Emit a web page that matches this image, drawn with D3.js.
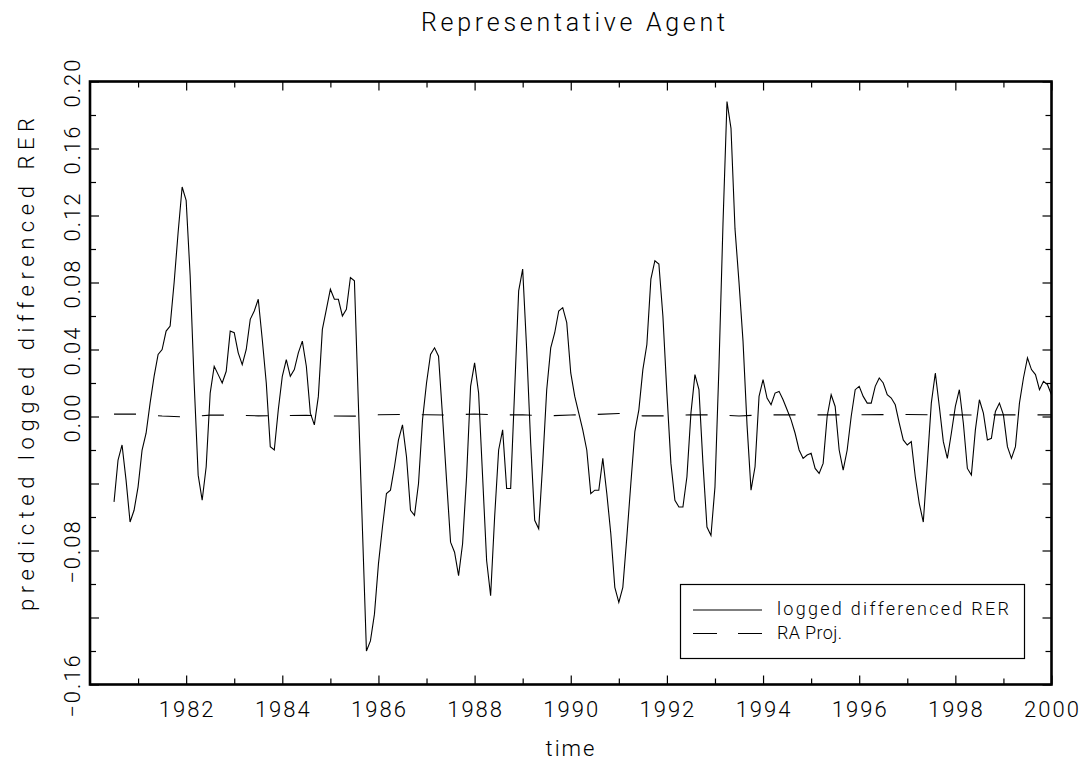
<!DOCTYPE html>
<html>
<head>
<meta charset="UTF-8">
<title>Representative Agent</title>
<script src="https://cdn.jsdelivr.net/npm/d3@7/dist/d3.min.js"></script>
<style>
  body { margin: 0; background: #fff; }
  text { font-family: Roboto, "DejaVu Sans", sans-serif; font-weight: 300; fill: #000; }
</style>
</head>
<body>
<script>
// monthly series, first month July 1980
var startYear = 1980, startMonth = 6
var rer = [
  -0.051,-0.026,-0.017,-0.038,-0.063,-0.056,-0.042,-0.020,-0.010, 0.008, 0.024, 0.037,
   0.040, 0.051, 0.054, 0.080, 0.110, 0.137, 0.129, 0.084, 0.020,-0.035,-0.050,-0.030,
   0.014, 0.030, 0.025, 0.020, 0.027, 0.051, 0.050, 0.038, 0.031, 0.040, 0.058, 0.063,
   0.070, 0.046, 0.020,-0.018,-0.020, 0.004, 0.024, 0.034, 0.024, 0.028, 0.038, 0.045,
   0.030, 0.002,-0.005, 0.012, 0.052, 0.064, 0.076, 0.070, 0.070, 0.060, 0.064, 0.083,
   0.081, 0.007,-0.067,-0.140,-0.134,-0.118,-0.088,-0.066,-0.046,-0.044,-0.030,-0.014,
  -0.005,-0.024,-0.056,-0.059,-0.040,-0.002, 0.020, 0.037, 0.041, 0.036, 0.000,-0.038,
  -0.075,-0.081,-0.095,-0.076,-0.036, 0.018, 0.032, 0.014,-0.036,-0.086,-0.107,-0.060,
  -0.020,-0.008,-0.043,-0.043, 0.016, 0.075, 0.088, 0.040,-0.016,-0.062,-0.067,-0.028,
   0.016, 0.041, 0.050, 0.063, 0.065, 0.056, 0.026, 0.012, 0.002,-0.008,-0.020,-0.046,
  -0.044,-0.044,-0.025,-0.046,-0.070,-0.102,-0.111,-0.102,-0.072,-0.040,-0.009, 0.004,
   0.028, 0.043, 0.082, 0.093, 0.091, 0.060, 0.014,-0.028,-0.050,-0.054,-0.054,-0.036,
   0.002, 0.025, 0.016,-0.028,-0.066,-0.071,-0.042, 0.030, 0.115, 0.188, 0.172, 0.112,
   0.080, 0.045,-0.005,-0.044,-0.030, 0.012, 0.022, 0.011, 0.007, 0.014, 0.015, 0.010,
   0.004,-0.002,-0.010,-0.020,-0.025,-0.023,-0.022,-0.031,-0.034,-0.028, 0.000, 0.013,
   0.006,-0.020,-0.032,-0.020, 0.000, 0.016, 0.018, 0.012, 0.008, 0.008, 0.018, 0.023,
   0.020, 0.013, 0.011, 0.007,-0.004,-0.014,-0.017,-0.015,-0.036,-0.052,-0.063,-0.028,
   0.008, 0.026, 0.006,-0.015,-0.025,-0.010, 0.006, 0.016,-0.004,-0.031,-0.035,-0.008,
   0.010, 0.002,-0.014,-0.013, 0.003, 0.008, 0.001,-0.018,-0.025,-0.018, 0.008, 0.023,
   0.035, 0.028, 0.025, 0.016, 0.021, 0.019, 0.013
]
// RA projection, read every half year
var raDates = [1980.5,1981,1981.5,1982,1982.5,1983,1983.5,1984,1984.5,1985,1985.5,1986,1986.5,1987,
  1987.5,1988,1988.5,1989,1989.5,1990,1990.5,1991,1991.5,1992,1992.5,1993,1993.5,1994,1994.5,1995,
  1995.5,1996,1996.5,1997,1997.5,1998,1998.5,1999,1999.5,2000]
var raProj = [0.0014,0.0014,0.0003,-0.0003,0.0008,0.0008,0.0004,0.0005,0.0007,0.0003,0.0002,0.0010,
  0.0012,0.0010,0.0009,0.0015,0.0010,0.0010,0.0004,0.0009,0.0012,0.0018,0.0004,0.0004,0.0010,0.0010,
  0.0003,0.0010,0.0010,0.0010,0.0010,0.0010,0.0011,0.0012,0.0010,0.0010,0.0009,0.0010,0.0010,0.0010]

var majorYears = [1982,1984,1986,1988,1990,1992,1994,1996,1998,2000]
var minorYears = [1981,1983,1985,1987,1989,1991,1993,1995,1997,1999]
var majorY = [-0.16,-0.12,-0.08,-0.04,0.00,0.04,0.08,0.12,0.16,0.20]
var minorY = [-0.14,-0.10,-0.06,-0.02,0.02,0.06,0.10,0.14,0.18]
var yLabels = [0.20,0.16,0.12,0.08,0.04,0.00,-0.08,-0.16]

var width = 1091, height = 767
var plotLeft = 90, plotRight = 1051.5, plotTop = 81.5, plotBottom = 684.5

var x = d3.scaleLinear().domain([1980, 2000]).range([plotLeft, plotRight])
var y = d3.scaleLinear().domain([-0.16, 0.20]).range([plotBottom, plotTop])

var svg = d3.select("body").append("svg").attr("width", width).attr("height", height)
svg.append("rect").attr("width", width).attr("height", height).attr("fill", "#fff")

svg.append("clipPath").attr("id", "plot")
  .append("rect").attr("x", plotLeft).attr("y", plotTop)
  .attr("width", plotRight - plotLeft).attr("height", plotBottom - plotTop)

function ticks(axis, g, size) {
  g.call(axis.tickSizeInner(size).tickSizeOuter(0).tickFormat(""))
  g.select(".domain").remove()
  g.selectAll("line").attr("stroke", "#000").attr("stroke-width", 1.2)
}
ticks(d3.axisBottom(x).tickValues(majorYears), svg.append("g").attr("transform", "translate(0," + plotBottom + ")"), -9)
ticks(d3.axisBottom(x).tickValues(minorYears), svg.append("g").attr("transform", "translate(0," + plotBottom + ")"), -6)
ticks(d3.axisTop(x).tickValues(majorYears), svg.append("g").attr("transform", "translate(0," + plotTop + ")"), -9)
ticks(d3.axisTop(x).tickValues(minorYears), svg.append("g").attr("transform", "translate(0," + plotTop + ")"), -6)
ticks(d3.axisLeft(y).tickValues(majorY), svg.append("g").attr("transform", "translate(" + plotLeft + ",0)"), -9)
ticks(d3.axisLeft(y).tickValues(minorY), svg.append("g").attr("transform", "translate(" + plotLeft + ",0)"), -6)
ticks(d3.axisRight(y).tickValues(majorY), svg.append("g").attr("transform", "translate(" + plotRight + ",0)"), -9)
ticks(d3.axisRight(y).tickValues(minorY), svg.append("g").attr("transform", "translate(" + plotRight + ",0)"), -6)

// tick labels
svg.selectAll(".xlab").data(majorYears).enter().append("text")
  .attr("x", function(d) { return x(d) + 1 }).attr("y", 716.5)
  .attr("text-anchor", "middle").attr("font-size", 22).attr("letter-spacing", 2)
  .text(function(d) { return d })

var fmt = d3.format(".2f")
svg.selectAll(".ylab").data(yLabels).enter().append("text")
  .attr("transform", function(d) { return "translate(80," + (y(d) + 1) + ") rotate(-90)" })
  .attr("text-anchor", "middle").attr("font-size", 22).attr("letter-spacing", 2)
  .text(function(d) { return fmt(d).replace("-", "\u2212") })

// data
var dates = rer.map(function(v, i) { return startYear + (startMonth + i) / 12 })
var plot = svg.append("g").attr("clip-path", "url(#plot)")
plot.append("path")
  .attr("d", d3.line().x(function(d, i) { return x(dates[i]) }).y(function(d) { return y(d) })(rer))
  .attr("fill", "none").attr("stroke", "#000").attr("stroke-width", 1.1)
plot.append("path")
  .attr("d", d3.line().x(function(d, i) { return x(raDates[i]) }).y(function(d) { return y(d) })(raProj))
  .attr("fill", "none").attr("stroke", "#000").attr("stroke-width", 1.1).attr("stroke-dasharray", "22,22")

// frame
svg.append("rect").attr("x", plotLeft).attr("y", plotTop)
  .attr("width", plotRight - plotLeft).attr("height", plotBottom - plotTop)
  .attr("fill", "none").attr("stroke", "#000").attr("stroke-width", 2.6)

// titles
svg.append("text").attr("x", 573).attr("y", 31).attr("text-anchor", "middle").attr("font-size", 25)
  .attr("textLength", 304).attr("lengthAdjust", "spacing").text("Representative Agent")
svg.append("text").attr("x", 571).attr("y", 756).attr("text-anchor", "middle").attr("font-size", 22)
  .attr("letter-spacing", 2).text("time")
svg.append("text").attr("transform", "translate(34,364.5) rotate(-90)").attr("text-anchor", "middle")
  .attr("font-size", 22).attr("textLength", 493).attr("lengthAdjust", "spacing")
  .text("predicted logged differenced RER")

// legend
var lg = svg.append("g")
lg.append("rect").attr("x", 680.5).attr("y", 584.5).attr("width", 344).attr("height", 74)
  .attr("fill", "#fff").attr("stroke", "#000").attr("stroke-width", 1.2)
lg.append("line").attr("x1", 693).attr("x2", 762).attr("y1", 610).attr("y2", 610)
  .attr("stroke", "#000").attr("stroke-width", 1.1)
lg.append("line").attr("x1", 693).attr("x2", 762).attr("y1", 633.5).attr("y2", 633.5)
  .attr("stroke", "#000").attr("stroke-width", 1.1).attr("stroke-dasharray", "24,21")
lg.append("text").attr("x", 777).attr("y", 615).attr("font-size", 18)
  .attr("textLength", 232).attr("lengthAdjust", "spacing").text("logged differenced RER")
lg.append("text").attr("x", 777).attr("y", 638.5).attr("font-size", 18)
  .attr("textLength", 65).attr("lengthAdjust", "spacing").text("RA Proj.")
</script>
</body>
</html>
